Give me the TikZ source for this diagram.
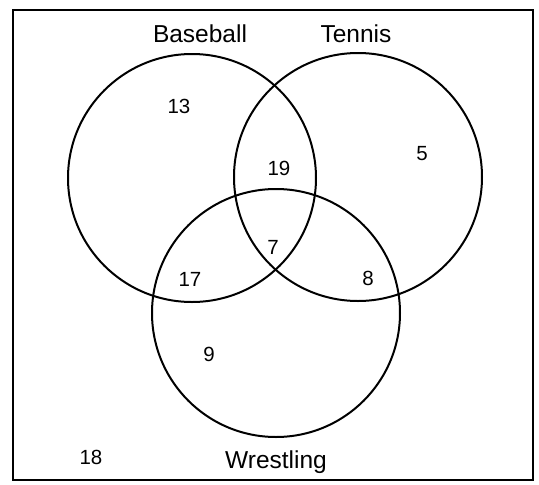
\documentclass[tikz,border=0pt]{standalone}
\usepackage{fontspec}
\setmainfont{Liberation Sans}
\usetikzlibrary{positioning}

\begin{document}
\begin{tikzpicture}[
    x=1pt, y=-1pt,
    set/.style={circle, draw, line width=2pt, minimum size=248pt, inner sep=0pt},
    setname/.style={anchor=base, font=\fontsize{24.5}{24.5}\selectfont},
    count/.style={font=\fontsize{20.5}{20.5}\selectfont}
]
  \useasboundingbox (0,0) rectangle (539,485);
  % Universe
  \draw[line width=2pt] (13,10) rectangle (533,480);
  % Sets
  \node[set] (base) at (192,178) {};
  \node[set] (tenn) at (358,177) {};
  \node[set] (wres) at (276,313) {};
  % Set names
  \node[setname] (baselbl) at (200,42) {Baseball};
  \node[setname] (tennlbl) at (356,42) {Tennis};
  \node[setname] (wreslbl) at (276,468) {Wrestling};
  % Counts
  \node[count] (nb)   at (179,106) {13};
  \node[count] (nt)   at (422,154) {5};
  \node[count] (nbt)  at (279,168) {19};
  \node[count] (nbtw) at (273,247) {7};
  \node[count] (nbw)  at (190,279) {17};
  \node[count] (ntw)  at (368,278) {8};
  \node[count] (nw)   at (209,354) {9};
  \node[count] (none) at (91,457) {18};
\end{tikzpicture}
\end{document}
